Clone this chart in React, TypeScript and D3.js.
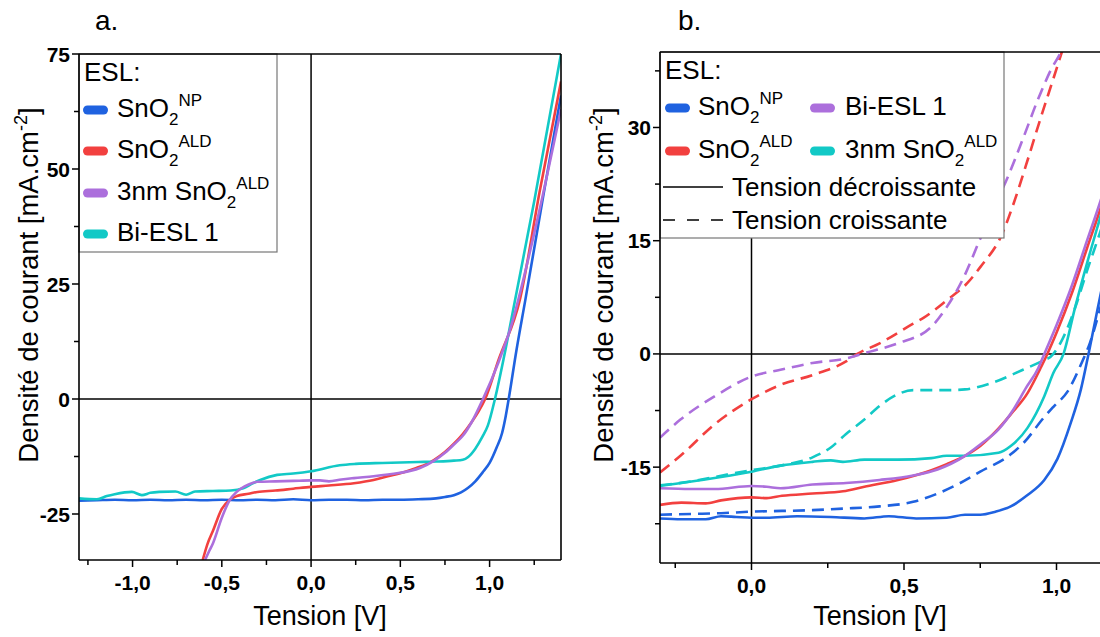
import React from "react";
import * as d3 from "d3";

const FONT = "'Liberation Sans', Arial, Helvetica, sans-serif";
const BLUE = "#1f62e0";
const RED = "#f2403f";
const PURPLE = "#ac6fdc";
const CYAN = "#12c9c6";

// ---------- Panel a (J-V, tension décroissante) ----------
const aNpV = [-1.3, -1.2, -1.1, -1.0, -0.9, -0.8, -0.7, -0.6, -0.5, -0.4, -0.3, -0.2, -0.1, 0.0, 0.1, 0.2, 0.3, 0.4, 0.5, 0.6, 0.7, 0.75, 0.8, 0.84, 0.88, 0.92, 0.96, 1.0, 1.04, 1.07, 1.09, 1.107, 1.15, 1.2, 1.3, 1.4];
const aNpJ = [-22.1, -22.0, -21.9, -22.0, -21.9, -22.0, -21.9, -22.0, -21.9, -22.0, -21.9, -22.0, -21.8, -22.0, -21.9, -21.9, -22.0, -21.9, -21.9, -21.8, -21.6, -21.3, -20.9, -20.3, -19.3, -17.9, -16.0, -13.9, -10.5, -7.4, -3.8, 0, 10.5, 21.5, 44, 66];

const aAldV = [-0.607, -0.58, -0.55, -0.5, -0.455, -0.416, -0.35, -0.3, -0.2, -0.1, 0.0, 0.1, 0.24, 0.35, 0.43, 0.52, 0.59, 0.65, 0.69, 0.75, 0.8, 0.85, 0.9, 0.94, 0.975, 1.05, 1.169, 1.28, 1.4];
const aAldJ = [-35, -31.5, -28.7, -23.9, -21.9, -21.1, -20.6, -20.2, -19.9, -19.5, -19.1, -18.8, -18.3, -17.6, -16.8, -15.9, -15.0, -14.1, -13.2, -11.5, -9.7, -7.6, -5.0, -2.6, 0, 8.5, 21.5, 45, 69];

const a3nmV = [-0.594, -0.57, -0.55, -0.5, -0.455, -0.42, -0.39, -0.35, -0.3, -0.2, -0.1, 0.0, 0.05, 0.1, 0.17, 0.24, 0.35, 0.49, 0.56, 0.61, 0.69, 0.75, 0.8, 0.85, 0.9, 0.963, 1.05, 1.114, 1.25, 1.4];
const a3nmJ = [-35, -33, -31.4, -25.8, -21.9, -20.3, -19.4, -18.6, -18.0, -17.9, -17.8, -17.7, -17.7, -17.9, -17.5, -17.2, -16.8, -16.1, -15.6, -15.0, -13.4, -11.7, -9.9, -8.0, -5.0, 0, 8, 15, 36, 63];

const aBiV = [-1.3, -1.2, -1.144, -1.1, -1.004, -0.948, -0.9, -0.85, -0.76, -0.7, -0.65, -0.55, -0.45, -0.38, -0.33, -0.285, -0.19, -0.1, 0.0, 0.16, 0.25, 0.4, 0.5, 0.6, 0.7, 0.8, 0.85, 0.88, 0.92, 0.96, 0.99, 1.03, 1.08, 1.14, 1.25, 1.4];
const aBiJ = [-21.6, -21.8, -21.1, -20.7, -20.2, -20.9, -20.4, -20.2, -20.1, -20.8, -20.1, -20.0, -19.9, -19.4, -18.4, -17.6, -16.5, -16.2, -15.7, -14.4, -14.1, -13.9, -13.8, -13.7, -13.6, -13.4, -13.2, -12.6, -10.8, -8.2, -5.8, 0, 9, 21, 43, 75];

// ---------- Panel b (hystérésis) ----------
const bNpDecV = [-0.3, -0.23, -0.15, -0.1, -0.05, 0, 0.05, 0.15, 0.26, 0.37, 0.45, 0.54, 0.64, 0.7, 0.75, 0.8, 0.85, 0.905, 0.96, 1.003, 1.047, 1.08, 1.105, 1.13, 1.16, 1.2, 1.3];
const bNpDecJ = [-21.8, -21.9, -21.9, -21.5, -21.6, -21.7, -21.7, -21.5, -21.6, -21.8, -21.5, -21.8, -21.7, -21.3, -21.3, -20.9, -20.2, -18.7, -16.7, -13.9, -9.1, -4.7, 0, 5, 11, 20, 42];
const bNpCroV = [-0.3, -0.2, -0.1, 0, 0.1, 0.2, 0.3, 0.42, 0.53, 0.61, 0.68, 0.75, 0.85, 0.894, 0.957, 0.99, 1.036, 1.079, 1.11, 1.15, 1.2];
const bNpCroJ = [-21.3, -21.2, -21.1, -20.9, -20.8, -20.7, -20.5, -20.2, -19.6, -18.5, -17.2, -15.6, -13.3, -11.7, -8.5, -7.0, -5.0, -1.5, 1.5, 7, 14];

const bAldDecV = [-0.3, -0.23, -0.15, -0.1, 0, 0.05, 0.1, 0.2, 0.3, 0.37, 0.48, 0.59, 0.64, 0.7, 0.75, 0.8, 0.85, 0.905, 0.95, 0.97, 1.0, 1.05, 1.1, 1.15, 1.2, 1.3];
const bAldDecJ = [-20.0, -19.7, -19.8, -19.4, -19.0, -19.1, -18.8, -18.5, -18.2, -17.6, -16.7, -15.4, -14.6, -13.5, -12.2, -10.3, -8.0, -5.2, -1.7, 0, 2.8, 8, 14, 20, 27, 42];
const bAldCroV = [-0.3, -0.233, -0.12, 0, 0.095, 0.2, 0.31, 0.347, 0.42, 0.53, 0.565, 0.64, 0.708, 0.75, 0.823, 0.86, 0.9, 0.95, 0.99, 1.02, 1.05];
const bAldCroJ = [-15.7, -13.5, -9.3, -6.0, -4.1, -2.8, -1.0, 0, 1.4, 4.0, 4.8, 7.1, 9.4, 11.5, 16.0, 20, 25, 31.5, 36.5, 40.3, 44];

const bBiDecV = [-0.3, -0.2, -0.12, 0, 0.05, 0.095, 0.2, 0.31, 0.42, 0.53, 0.61, 0.7, 0.75, 0.81, 0.86, 0.9, 0.94, 0.96, 1.0, 1.05, 1.1, 1.15, 1.2, 1.3];
const bBiDecJ = [-17.8, -17.9, -17.9, -17.5, -17.6, -17.8, -17.3, -17.1, -16.7, -16.1, -15.3, -13.5, -12.0, -10.0, -7.3, -4.5, -1.9, 0, 3.8, 9, 15, 21, 28, 43];
const bBiCroV = [-0.3, -0.233, -0.12, 0, 0.095, 0.2, 0.31, 0.37, 0.48, 0.59, 0.64, 0.7, 0.744, 0.79, 0.84, 0.89, 0.938, 0.98, 1.02, 1.05];
const bBiCroJ = [-11.1, -8.7, -5.6, -3.0, -2.1, -1.2, -0.6, 0.1, 1.4, 3.6, 6.2, 10.5, 14.7, 19, 23.4, 28.5, 33.6, 37.5, 40.5, 44];

const b3nmDecV = [-0.3, -0.23, -0.1, 0, 0.095, 0.2, 0.26, 0.3, 0.37, 0.48, 0.59, 0.64, 0.7, 0.81, 0.85, 0.905, 0.96, 0.99, 1.023, 1.06, 1.1, 1.15, 1.2, 1.3];
const b3nmDecJ = [-17.5, -17.1, -16.3, -15.6, -14.8, -14.3, -14.1, -14.3, -14.0, -14.0, -13.8, -13.5, -13.5, -13.1, -12.2, -9.8, -5.6, -2.5, 0, 6, 12, 19, 26, 40];
const b3nmCroV = [-0.3, -0.2, -0.12, 0, 0.095, 0.2, 0.26, 0.31, 0.37, 0.42, 0.467, 0.53, 0.64, 0.7, 0.784, 0.89, 0.96, 0.98, 1.02, 1.06, 1.1, 1.15, 1.2];
const b3nmCroJ = [-17.4, -16.9, -16.3, -15.4, -14.8, -13.7, -12.4, -10.6, -8.7, -6.9, -5.6, -4.8, -4.8, -4.7, -3.9, -2.1, -0.8, -0.4, 2, 6, 11, 17, 24];

// ---------- Ticks ----------
const aYMajor = [-25, 0, 25, 50, 75];
const aYMinor = [-12.5, 12.5, 37.5, 62.5];
const aXMajor = [-1, -0.5, 0, 0.5, 1];
const aXMinor = [-1.25, -0.75, -0.25, 0.25, 0.75, 1.25];
const bYMajor = [-15, 0, 15, 30];
const bYMinor = [-22.5, -7.5, 7.5, 22.5, 37.5];
const bXMajor = [0, 0.5, 1];
const bXMinor = [-0.25, 0.25, 0.75, 1.25];

const xFmt = (v: number) => d3.format(".1f")(v).replace("\u2212", "-").replace(".", ",");
const yFmt = (v: number) => String(v);

type Series = { v: number[]; j: number[]; color: string; dashed?: boolean };

function Panel(props: {
  id: string;
  left: number; right: number; top: number; bottom: number;
  xDom: [number, number]; yDom: [number, number];
  series: Series[];
  xMajor: number[]; xMinor: number[]; yMajor: number[]; yMinor: number[];
  rightBorder: boolean;
  labelX: number; titleX: number; title: string; titleLabelX: number;
  children?: React.ReactNode;
}) {
  const { left, right, top, bottom } = props;
  const x = d3.scaleLinear().domain(props.xDom).range([left, right]);
  const y = d3.scaleLinear().domain(props.yDom).range([bottom, top]);
  const line = (s: Series) =>
    d3.line<number>()
      .x((_, i) => x(s.v[i]))
      .y((d) => y(d))
      .curve(d3.curveMonotoneX)(s.j) || "";
  const tickLen = 7;
  return (
    <g>
      <defs>
        <clipPath id={props.id}>
          <rect x={left} y={top} width={right - left} height={bottom - top} />
        </clipPath>
      </defs>
      <g clipPath={`url(#${props.id})`}>
        <line x1={x(0)} x2={x(0)} y1={top} y2={bottom} stroke="#000" strokeWidth={1.5} />
        <line x1={left} x2={right} y1={y(0)} y2={y(0)} stroke="#000" strokeWidth={1.5} />
        {props.series.map((s, i) => (
          <path key={i} d={line(s)} fill="none" stroke={s.color} strokeWidth={2.6}
            strokeDasharray={s.dashed ? "12,7" : undefined} strokeLinejoin="round" />
        ))}
      </g>
      {props.children}
      {/* frame */}
      <line x1={left} x2={right} y1={top} y2={top} stroke="#000" strokeWidth={1.6} />
      <line x1={left} x2={right} y1={bottom} y2={bottom} stroke="#000" strokeWidth={1.6} />
      <line x1={left} x2={left} y1={top} y2={bottom} stroke="#000" strokeWidth={1.6} />
      {props.rightBorder && <line x1={right} x2={right} y1={top} y2={bottom} stroke="#000" strokeWidth={1.6} />}
      {/* y ticks */}
      {props.yMajor.map((v) => (
        <g key={"ym" + v}>
          <line x1={left - tickLen} x2={left} y1={y(v)} y2={y(v)} stroke="#000" strokeWidth={1.5} />
          <text x={left - 9} y={y(v)} dy="0.36em" textAnchor="end" fontFamily={FONT} fontWeight="bold" fontSize={21}>{yFmt(v)}</text>
        </g>
      ))}
      {props.yMinor.map((v) => (
        <line key={"yn" + v} x1={left - 5} x2={left} y1={y(v)} y2={y(v)} stroke="#000" strokeWidth={1.5} />
      ))}
      {props.xMajor.map((v) => (
        <g key={"xm" + v}>
          <line x1={x(v)} x2={x(v)} y1={bottom} y2={bottom + tickLen} stroke="#000" strokeWidth={1.5} />
          <text x={x(v)} y={bottom + 30} textAnchor="middle" fontFamily={FONT} fontWeight="bold" fontSize={21}>{xFmt(v)}</text>
        </g>
      ))}
      {props.xMinor.map((v) => (
        <line key={"xn" + v} x1={x(v)} x2={x(v)} y1={bottom} y2={bottom + 5} stroke="#000" strokeWidth={1.5} />
      ))}
      <text x={props.titleX} y={625} textAnchor="middle" fontFamily={FONT} fontSize={27}>Tension [V]</text>
      <text transform={`translate(${props.labelX},285) rotate(-90)`} textAnchor="middle" fontFamily={FONT} fontSize={27.5}>
        Densité de courant [mA.cm<tspan dy={-11} fontSize={18}>-2</tspan><tspan dy={11}>]</tspan>
      </text>
      <text x={props.titleLabelX} y={30} fontFamily={FONT} fontSize={28}>{props.title}</text>
    </g>
  );
}

function Chem(props: { x: number; y: number; pre?: string; sup: string }) {
  return (
    <text x={props.x} y={props.y} fontFamily={FONT} fontSize={26}>
      {props.pre || ""}SnO<tspan dy={8} fontSize={17}>2</tspan><tspan dy={-19} fontSize={17}>{props.sup}</tspan>
    </text>
  );
}

function Swatch(props: { x: number; y: number; color: string }) {
  return <line x1={props.x + 4.5} x2={props.x + 20.5} y1={props.y} y2={props.y} stroke={props.color} strokeWidth={9} strokeLinecap="round" />;
}

export default function App() {
  const aSeries: Series[] = [
    { v: aNpV, j: aNpJ, color: BLUE },
    { v: aAldV, j: aAldJ, color: RED },
    { v: aBiV, j: aBiJ, color: CYAN },
    { v: a3nmV, j: a3nmJ, color: PURPLE },
  ];
  const bSeries: Series[] = [
    { v: bNpCroV, j: bNpCroJ, color: BLUE, dashed: true },
    { v: bAldCroV, j: bAldCroJ, color: RED, dashed: true },
    { v: bBiCroV, j: bBiCroJ, color: PURPLE, dashed: true },
    { v: b3nmCroV, j: b3nmCroJ, color: CYAN, dashed: true },
    { v: bNpDecV, j: bNpDecJ, color: BLUE },
    { v: bAldDecV, j: bAldDecJ, color: RED },
    { v: b3nmDecV, j: b3nmDecJ, color: CYAN },
    { v: bBiDecV, j: bBiDecJ, color: PURPLE },
  ];
  return (
    <div style={{ position: "absolute", left: 0, top: 0 }}>
      <svg width={1100} height={637} style={{ display: "block", overflow: "hidden", background: "#fff" }}>
        <Panel id="clipA" left={79} right={561} top={54} bottom={560} xDom={[-1.3, 1.4]} yDom={[-35, 75]}
          series={aSeries} xMajor={aXMajor} xMinor={aXMinor} yMajor={aYMajor} yMinor={aYMinor}
          rightBorder={true} labelX={38} titleX={320} title="a." titleLabelX={95}>
          <rect x={79} y={54} width={198} height={198} fill="#fff" stroke="#777" strokeWidth={1.2} />
          <text x={84} y={81} fontFamily={FONT} fontSize={26}>ESL:</text>
          <Swatch x={83} y={110} color={BLUE} />
          <Chem x={117} y={117} sup="NP" />
          <Swatch x={83} y={151} color={RED} />
          <Chem x={117} y={158} sup="ALD" />
          <Swatch x={83} y={193} color={PURPLE} />
          <Chem x={117} y={200} pre="3nm " sup="ALD" />
          <Swatch x={83} y={234} color={CYAN} />
          <text x={117} y={241} fontFamily={FONT} fontSize={26}>Bi-ESL 1</text>
        </Panel>
        <Panel id="clipB" left={660} right={1148} top={52} bottom={563} xDom={[-0.3, 1.3]} yDom={[-27.7, 40]}
          series={bSeries} xMajor={bXMajor} xMinor={bXMinor} yMajor={bYMajor} yMinor={bYMinor}
          rightBorder={true} labelX={613} titleX={880} title="b." titleLabelX={678}>
          <rect x={660} y={52} width={344} height={186} fill="#fff" stroke="#777" strokeWidth={1.2} />
          <text x={665} y={79} fontFamily={FONT} fontSize={26}>ESL:</text>
          <Swatch x={665} y={108} color={BLUE} />
          <Chem x={698} y={115} sup="NP" />
          <Swatch x={810} y={108} color={PURPLE} />
          <text x={845} y={115} fontFamily={FONT} fontSize={26}>Bi-ESL 1</text>
          <Swatch x={665} y={151} color={RED} />
          <Chem x={698} y={158} sup="ALD" />
          <Swatch x={810} y={151} color={CYAN} />
          <Chem x={845} y={158} pre="3nm " sup="ALD" />
          <line x1={663} x2={723} y1={187} y2={187} stroke="#000" strokeWidth={1.6} />
          <text x={732} y={196} fontFamily={FONT} fontSize={26}>Tension décroissante</text>
          <line x1={663} x2={723} y1={220} y2={220} stroke="#000" strokeWidth={1.6} strokeDasharray="12,12" />
          <text x={732} y={229} fontFamily={FONT} fontSize={26}>Tension croissante</text>
        </Panel>
      </svg>
    </div>
  );
}
